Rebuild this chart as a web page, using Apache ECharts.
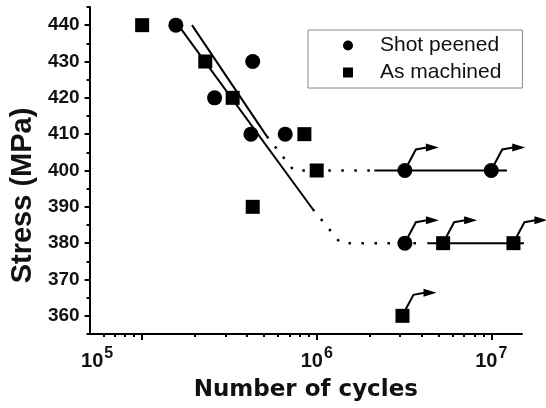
<!DOCTYPE html>
<html>
<head>
<meta charset="utf-8">
<script src="https://cdn.jsdelivr.net/npm/echarts@6/dist/echarts.min.js"></script>
<style>
  html, body { margin: 0; padding: 0; background: #fff; }
  #chart { width: 546px; height: 408px; }
</style>
</head>
<body>
<div id="chart"></div>
<script>
// data
const shotCycles = [1.56e5, 4.3e5, 2.6e5, 4.2e5, 6.6e5, 3.2e6, 1e7, 3.2e6];
const shotStress = [440, 430, 420, 410, 410, 400, 400, 380];
const shotRunout = [5, 6, 7];

const machCycles = [1e5, 2.3e5, 3.3e5, 8.5e5, 1e6, 4.3e5, 5.3e6, 1.34e7, 3.1e6];
const machStress = [440, 430, 420, 410, 400, 390, 380, 380, 360];
const machRunout = [6, 7, 8];

// fitted curves (solid / dotted / solid)
const fitA = [[1.93e5, 440], [5.18e5, 409.4]];
const fitADot = [[5.18e5, 409.4], [7.4e5, 400], [2.14e6, 400]];
const fitAFlat = [[2.14e6, 400], [1.23e7, 400]];
const fitB = [[1.61e5, 440], [9.48e5, 389.4]];
const fitBDot = [[9.48e5, 389.4], [1.37e6, 380], [3.85e6, 380]];
const fitBFlat = [[4.3e6, 380], [1.63e7, 380]];

const xMajor = [1e5, 1e6, 1e7];
const xMinor = [6e4, 7e4, 8e4, 9e4, 2e5, 3e5, 4e5, 5e5, 6e5, 7e5, 8e5, 9e5,
  2e6, 3e6, 4e6, 5e6, 6e6, 7e6, 8e6, 9e6];
const yMajor = [360, 370, 380, 390, 400, 410, 420, 430, 440];
const yMinor = [355, 365, 375, 385, 395, 405, 415, 425, 435, 445];

const zip = (xs, ys) => xs.map((x, i) => [x, ys[i]]);
const shotData = zip(shotCycles, shotStress);
const machData = zip(machCycles, machStress);
const runoutData = shotRunout.map(i => shotData[i]).concat(machRunout.map(i => machData[i]));

const chart = echarts.init(document.getElementById('chart'));

const lineSeries = (data, dotted) => ({
  type: 'line',
  data: data,
  symbol: 'none',
  clip: false,
  silent: true,
  z: 1,
  lineStyle: dotted
    ? { color: '#000', width: 2.5, type: [2.5, 10.5] }
    : { color: '#000', width: 2 }
});

const option = {
  animation: false,
  grid: { left: 88, right: 24, top: 7, bottom: 74 },
  legend: {
    orient: 'vertical',
    left: 308,
    top: 30,
    padding: [5, 21, 5, 35],
    itemGap: 6,
    itemWidth: 10,
    itemHeight: 10,
    borderColor: '#888',
    borderWidth: 1,
    textStyle: {
      fontFamily: 'Liberation Sans',
      fontSize: 21,
      color: '#111',
      padding: [0, 0, 0, 22]
    },
    data: [
      { name: 'Shot peened', icon: 'circle' },
      { name: 'As machined', icon: 'rect' }
    ]
  },
  xAxis: [
    {
      type: 'log',
      logBase: 10,
      min: 5e4,
      max: 1.5e7,
      position: 'bottom',
      name: 'Number of cycles',
      nameLocation: 'middle',
      nameGap: 45,
      nameTextStyle: {
        fontFamily: 'DejaVu Sans',
        fontWeight: 'bold',
        fontSize: 23,
        color: '#111'
      },
      axisLine: { lineStyle: { color: '#000', width: 2 } },
      axisTick: { customValues: xMajor, length: 6, lineStyle: { color: '#000', width: 2 } },
      axisLabel: {
        customValues: xMajor,
        margin: 12,
        formatter: v => {
          const e = Math.round(Math.log10(v));
          return e === 5 ? '{b|10}{s5|5}' : '{b|10}{s|' + e + '}';
        },
        rich: {
          b: { fontFamily: 'Liberation Sans', fontWeight: 'bold', fontSize: 20, color: '#111' },
          s: { fontFamily: 'Liberation Sans', fontWeight: 'bold', fontSize: 16, color: '#111', padding: [0, 0, 14, 1] },
          s5: { fontFamily: 'Liberation Sans', fontWeight: 'bold', fontSize: 16, color: '#111', padding: [0, 90, 14, 1] }
        }
      },
      splitLine: { show: false }
    },
    {
      type: 'log',
      logBase: 10,
      min: 5e4,
      max: 1.5e7,
      position: 'bottom',
      axisLine: { show: false },
      axisTick: { customValues: xMinor, length: 3, lineStyle: { color: '#000', width: 2 } },
      axisLabel: { show: false },
      splitLine: { show: false }
    }
  ],
  yAxis: [
    {
      type: 'value',
      min: 355,
      max: 445,
      position: 'left',
      name: 'Stress (MPa)',
      nameLocation: 'middle',
      nameGap: 50,
      nameTextStyle: {
        fontFamily: 'Liberation Sans',
        fontWeight: 'bold',
        fontSize: 29,
        color: '#111',
        padding: [0, 50, 0, 0]
      },
      axisLine: { show: true, lineStyle: { color: '#000', width: 2 } },
      axisTick: { show: true, customValues: yMajor, length: 5, lineStyle: { color: '#000', width: 2 } },
      axisLabel: {
        customValues: yMajor,
        margin: 10,
        fontFamily: 'Liberation Sans',
        fontWeight: 'bold',
        fontSize: 19,
        color: '#111'
      },
      splitLine: { show: false }
    },
    {
      type: 'value',
      min: 355,
      max: 445,
      position: 'left',
      axisLine: { show: false },
      axisTick: { show: true, customValues: yMinor, length: 3, lineStyle: { color: '#000', width: 2 } },
      axisLabel: { show: false },
      splitLine: { show: false }
    }
  ],
  series: [
    lineSeries(fitA, false),
    lineSeries(fitADot, true),
    lineSeries(fitAFlat, false),
    lineSeries(fitB, false),
    lineSeries(fitBDot, true),
    lineSeries(fitBFlat, false),
    {
      name: 'Shot peened',
      type: 'scatter',
      symbol: 'circle',
      symbolSize: 15,
      itemStyle: { color: '#000', opacity: 1 },
      data: shotData,
      z: 3
    },
    {
      name: 'As machined',
      type: 'scatter',
      symbol: 'rect',
      symbolSize: 14,
      itemStyle: { color: '#000', opacity: 1 },
      data: machData,
      z: 3
    },
    {
      // run-out arrows on unbroken specimens
      type: 'custom',
      silent: true,
      clip: false,
      z: 4,
      data: runoutData,
      renderItem: (params, api) => {
        const p = api.coord([api.value(0), api.value(1)]);
        const x = p[0], y = p[1];
        return {
          type: 'group',
          children: [
            {
              type: 'polyline',
              shape: { points: [[x + 3, y - 6], [x + 11, y - 21], [x + 22, y - 23]] },
              style: { stroke: '#000', lineWidth: 2, fill: null }
            },
            {
              type: 'polygon',
              shape: { points: [[x + 21, y - 27], [x + 34, y - 23], [x + 21, y - 19]] },
              style: { fill: '#000' }
            }
          ]
        };
      }
    }
  ]
};

chart.setOption(option);
window.addEventListener('resize', () => chart.resize());
</script>
</body>
</html>
